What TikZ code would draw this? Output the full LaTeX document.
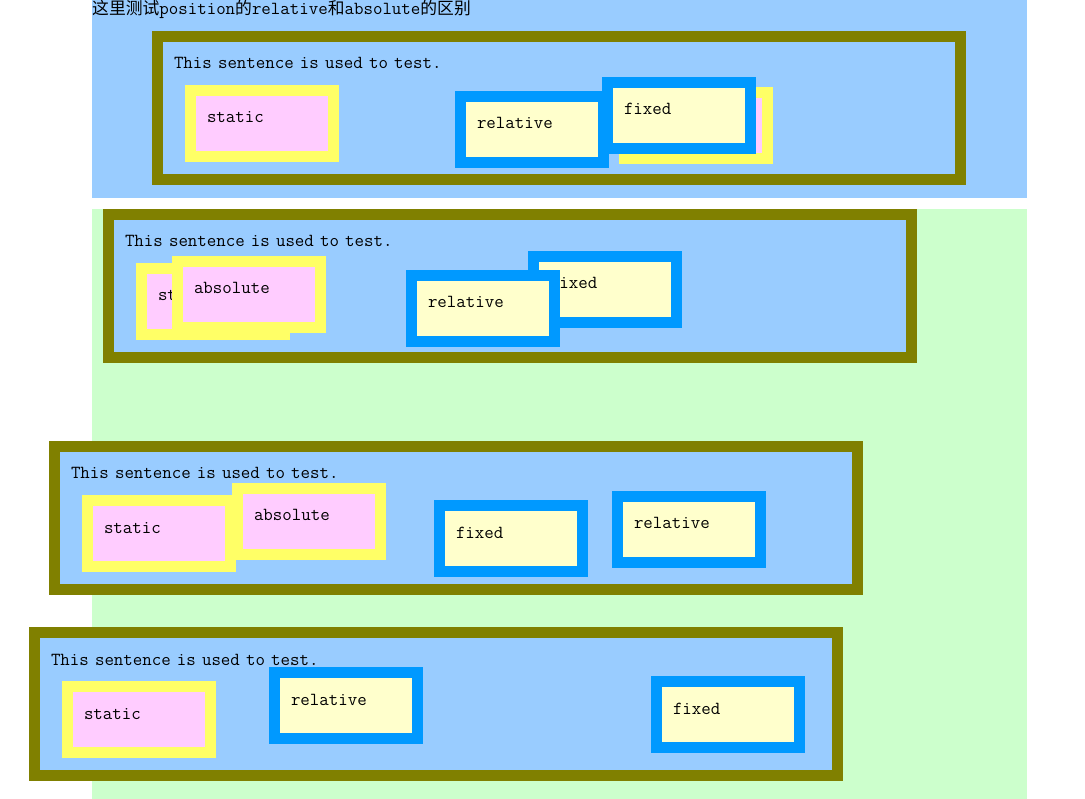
\documentclass[tikz,border=0pt]{standalone}
\usepackage{fontspec}
\newfontfamily\cjk{Noto Sans CJK SC}
\definecolor{skyfill}{HTML}{99CCFF}
\definecolor{mintfill}{HTML}{CCFFCC}
\definecolor{olivebd}{HTML}{808000}
\definecolor{yelbd}{HTML}{FFFF66}
\definecolor{pinkfill}{HTML}{FFCCFF}
\definecolor{bluebd}{HTML}{0099FF}
\definecolor{creamfill}{HTML}{FFFFCC}
\newcommand{\zh}[1]{{\cjk\fontsize{16.8}{20}\selectfont #1}}
\newcommand{\monofont}{\ttfamily\fontsize{18.4}{20}\selectfont}
\begin{document}
\begin{tikzpicture}[x=1pt,y=-1pt,
  cell/.style={line width=11pt, anchor=north west,
    inner xsep=16.5pt, inner ysep=16.5pt, align=left, text height=16pt,
    font=\monofont},
  panel/.style={cell, draw=olivebd, fill=skyfill, text width=770pt, text depth=94pt},
  statbox/.style={cell, draw=yelbd, fill=pinkfill, text width=110pt, text depth=17pt},
  movbox/.style={cell, draw=bluebd, fill=creamfill, text width=110pt, text depth=17pt}]
\useasboundingbox (0,0) rectangle (1085,799);
\fill[skyfill] (92,0) rectangle (1027,198);
\fill[mintfill] (92,209) rectangle (1027,799);
\node[anchor=base west, inner sep=0, font=\monofont] (title) at (92,15)
  {\zh{这里测试}position\zh{的}relative\zh{和}absolute\zh{的区别}};

\node[panel] (p1) at (152,31) {This sentence is used to test.};
\node[statbox] (s1) at (185,85) {static};
\node[movbox] (r1) at (455,91) {relative};
\node[statbox] (a1) at (619,87) {};
\node[movbox] (f1) at (602,77) {fixed};

\node[panel] (p2) at (103,209) {This sentence is used to test.};
\node[statbox] (s2) at (136,263) {static};
\node[statbox] (a2) at (172,256) {absolute};
\node[movbox] (f2) at (528,251) {fixed};
\node[movbox] (r2) at (406,270) {relative};

\node[panel] (p3) at (49,441) {This sentence is used to test.};
\node[statbox] (s3) at (82,495) {static};
\node[statbox] (a3) at (232,483) {absolute};
\node[movbox] (f3) at (434,500) {fixed};
\node[movbox] (r3) at (612,491) {relative};

\node[panel] (p4) at (29,627) {This sentence is used to test.};
\node[statbox] (s4) at (62,681) {static};
\node[movbox] (r4) at (269,667) {relative};
\node[movbox] (f4) at (651,676) {fixed};
\end{tikzpicture}
\end{document}
